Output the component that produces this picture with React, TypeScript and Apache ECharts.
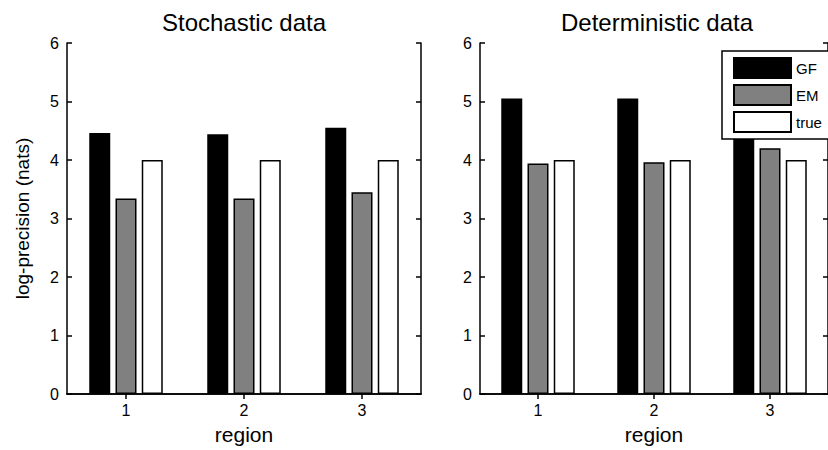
import React, { useEffect, useRef } from "react";
import * as echarts from "echarts";

const regions = ["1", "2", "3"];
const seriesNames = ["GF", "EM", "true"];
const stochasticGF = [4.46, 4.44, 4.55];
const stochasticEM = [3.34, 3.34, 3.45];
const stochasticTrue = [4.0, 4.0, 4.0];
const deterministicGF = [5.05, 5.05, 5.05];
const deterministicEM = [3.94, 3.96, 4.2];
const deterministicTrue = [4.0, 4.0, 4.0];
const fills = ["#000000", "#808080", "#ffffff"];

const FONT = "'Liberation Sans', Arial, Helvetica, sans-serif";

export default function App() {
  const ref = useRef<HTMLDivElement>(null);

  useEffect(() => {
    if (!ref.current) return;
    const chart = echarts.init(ref.current, null, { renderer: "svg" });

    const grids = [
      { left: 67, top: 43, width: 354, height: 352 },
      { left: 480, top: 43, width: 354, height: 352 },
    ];

    const lineStyle = { color: "#000", width: 1.5 };

    const bottomX = (gi: number) => ({
      type: "category",
      gridIndex: gi,
      data: regions,
      position: "bottom",
      axisLine: { show: true, lineStyle },
      axisTick: { show: true, inside: true, alignWithLabel: true, length: 5, lineStyle },
      axisLabel: { color: "#000", fontSize: 16, fontFamily: FONT, margin: 8 },
      name: "region",
      nameLocation: "middle",
      nameGap: 30,
      nameTextStyle: { color: "#000", fontSize: 21, fontFamily: FONT },
    });
    const topX = (gi: number) => ({
      type: "category",
      gridIndex: gi,
      data: regions,
      position: "top",
      axisLine: { show: true, lineStyle },
      axisTick: { show: true, inside: true, alignWithLabel: true, length: 5, lineStyle },
      axisLabel: { show: false },
    });
    const leftY = (gi: number, withName: boolean) => ({
      type: "value",
      gridIndex: gi,
      min: 0,
      max: 6,
      interval: 1,
      position: "left",
      axisLine: { show: true, lineStyle },
      axisTick: { show: true, inside: true, length: 5, lineStyle },
      axisLabel: { color: "#000", fontSize: 16, fontFamily: FONT, margin: 8 },
      splitLine: { show: false },
      name: withName ? "log-precision (nats)" : "",
      nameLocation: "middle",
      nameGap: 35,
      nameTextStyle: { color: "#000", fontSize: 19, fontFamily: FONT },
    });
    const rightY = (gi: number) => ({
      type: "value",
      gridIndex: gi,
      min: 0,
      max: 6,
      interval: 1,
      position: "right",
      axisLine: { show: true, lineStyle },
      axisTick: { show: true, inside: true, length: 5, lineStyle },
      axisLabel: { show: false },
      splitLine: { show: false },
    });

    const groups = [
      [stochasticGF, stochasticEM, stochasticTrue],
      [deterministicGF, deterministicEM, deterministicTrue],
    ];

    const series: any[] = [];
    groups.forEach((vals, gi) => {
      vals.forEach((data, si) => {
        series.push({
          type: "bar",
          name: seriesNames[si],
          xAxisIndex: gi,
          yAxisIndex: gi,
          data,
          barWidth: 21,
          barGap: "25%",
          itemStyle: { color: fills[si], borderColor: "#000", borderWidth: 1.5 },
        });
      });
    });

    chart.setOption({
      animation: false,
      backgroundColor: "#fff",
      textStyle: { fontFamily: FONT },
      grid: grids,
      xAxis: [bottomX(0), bottomX(1), topX(0), topX(1)],
      yAxis: [leftY(0, true), leftY(1, false), rightY(0), rightY(1)],
      legend: {
        data: seriesNames,
        left: 722,
        top: 51,
        orient: "vertical",
        icon: "rect",
        itemWidth: 57,
        itemHeight: 20,
        itemGap: 5,
        padding: [6, 60, 6, 11],
        backgroundColor: "#fff",
        borderColor: "#000",
        borderWidth: 1.5,
        borderRadius: 0,
        textStyle: { color: "#000", fontSize: 15, fontFamily: FONT },
        selectedMode: false,
      },
      graphic: [
        {
          type: "text",
          x: 244,
          y: 22,
          style: {
            text: "Stochastic data",
            fill: "#000",
            font: `24px ${FONT}`,
            textAlign: "center",
            textVerticalAlign: "middle",
          },
        },
        {
          type: "text",
          x: 657,
          y: 22,
          style: {
            text: "Deterministic data",
            fill: "#000",
            font: `24px ${FONT}`,
            textAlign: "center",
            textVerticalAlign: "middle",
          },
        },
      ],
      series,
    });

    return () => chart.dispose();
  }, []);

  return (
    <div
      ref={ref}
      style={{ position: "fixed", left: 0, top: 0, width: 828, height: 450, background: "#fff" }}
    />
  );
}
